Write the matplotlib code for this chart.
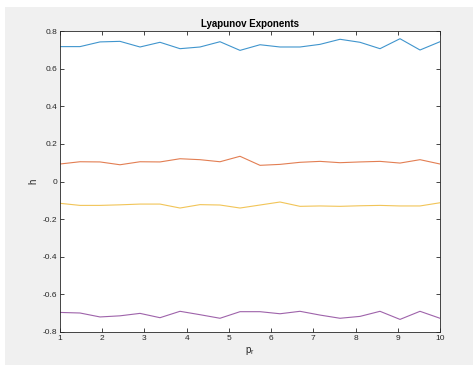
import numpy as np
import matplotlib
matplotlib.use('Agg')
import matplotlib.pyplot as plt
from matplotlib.patches import Rectangle

plt.rcParams['font.family'] = ['Liberation Sans', 'DejaVu Sans']
plt.rcParams['axes.unicode_minus'] = False

# 20 samples of p_r between 1 and 10
p_r = np.linspace(1, 10, 20)

h1 = [0.717, 0.717, 0.742, 0.745, 0.715, 0.740, 0.706, 0.715, 0.743, 0.697,
      0.727, 0.715, 0.715, 0.729, 0.756, 0.740, 0.706, 0.759, 0.699, 0.743]
h2 = [0.093, 0.105, 0.104, 0.089, 0.105, 0.104, 0.121, 0.116, 0.105, 0.134,
      0.086, 0.091, 0.102, 0.107, 0.100, 0.104, 0.107, 0.098, 0.116, 0.093]
h3 = [-0.116, -0.127, -0.127, -0.124, -0.120, -0.120, -0.141, -0.123, -0.125, -0.141,
      -0.125, -0.109, -0.132, -0.130, -0.132, -0.129, -0.127, -0.130, -0.130, -0.113]
h4 = [-0.696, -0.699, -0.720, -0.714, -0.701, -0.724, -0.690, -0.708, -0.727, -0.692,
      -0.692, -0.703, -0.690, -0.710, -0.727, -0.717, -0.690, -0.733, -0.690, -0.727]

colors = ['#0072bd', '#d95319', '#edb120', '#7e2f8e']

fig = plt.figure(figsize=(4.73, 3.65), dpi=100, facecolor='white')
# grey figure panel (MATLAB style), offset slightly from top-left
fig.patches.append(Rectangle((5 / 473, 0), 1, 1 - 7 / 365, transform=fig.transFigure,
                             facecolor='#f0f0f0', edgecolor='none', zorder=-10))

ax = fig.add_axes([60 / 473, 1 - 332 / 365, 380 / 473, 301 / 365])
for h, c in zip([h1, h2, h3, h4], colors):
    ax.plot(p_r, h, color=c, lw=0.8, alpha=0.75)

ax.set_xlim(1, 10)
ax.set_ylim(-0.8, 0.8)
ax.set_xticks(range(1, 11))
ax.set_yticks(np.arange(-0.8, 0.81, 0.2))
ax.set_yticklabels(['-0.8', '-0.6', '-0.4', '-0.2', '0', '0.2', '0.4', '0.6', '0.8'])
ax.tick_params(direction='in', top=True, right=True, labelsize=6, length=3,
               width=0.6, colors='#262626', pad=2)
for s in ax.spines.values():
    s.set_color('#262626')
    s.set_linewidth(0.6)

ax.set_title('Lyapunov Exponents', fontsize=7, fontweight='bold', pad=3)
ax.set_xlabel(r'$\mathregular{p_r}$', fontsize=7, color='#262626', labelpad=2)
ax.set_ylabel('h', fontsize=7, color='#262626', labelpad=3)

fig.savefig('out.png', dpi=100, facecolor=fig.get_facecolor())
